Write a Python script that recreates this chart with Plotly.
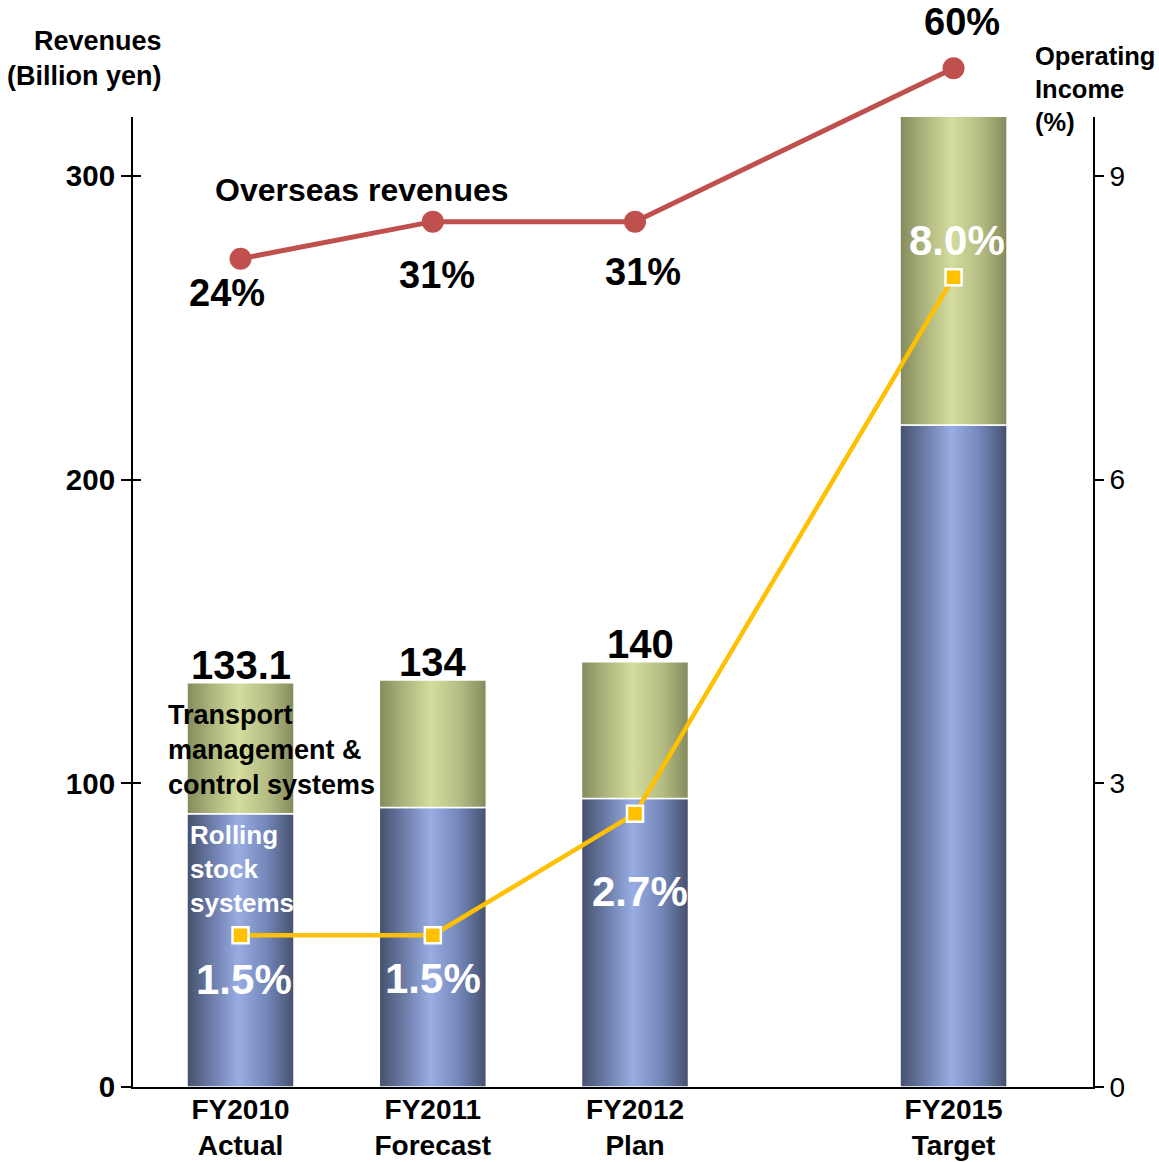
import plotly.graph_objects as go

# ---- data ----
years = ["FY2010<br>Actual", "FY2011<br>Forecast", "FY2012<br>Plan", "FY2015<br>Target"]
x_pos = [0, 0.975, 2, 3.615]          # category positions (gap before FY2015)
rolling_stock = [90, 92, 95, 218]          # Rolling stock systems (billion yen)
total_revenue = [133.1, 134, 140, 320]     # Total revenues (billion yen)
total_labels = ["133.1", "134", "140", "320"]
op_margin = [1.5, 1.5, 2.7, 8.0]           # Operating income ratio (%)
op_labels = ["1.5%", "1.5%", "2.7%", "8.0%"]
overseas_share = [24, 31, 31, 60]          # Overseas revenue share (%)
overseas_labels = ["24%", "31%", "31%", "60%"]

FONT = "Arial, 'Liberation Sans', Helvetica, sans-serif"
W, H = 1159, 1162
ML, MR, MT, MB = 133, 66, 20, 75
plot_h = H - MT - MB
main_top = (1087 - 117) / plot_h
UNIT = 197.25

BAR_W = 107 / UNIT
blue_scale = [[0, "#45506d"], [0.25, "#6f80ad"], [0.48, "#99ade4"], [0.75, "#7286b8"], [1, "#45506d"]]
green_scale = [[0, "#858a5c"], [0.25, "#b0b87f"], [0.48, "#d4dd9d"], [0.75, "#b5bd84"], [1, "#858a5c"]]

fig = go.Figure()

def add_segment(xc, base, top, scale):
    x0, x1 = xc - BAR_W / 2, xc + BAR_W / 2
    fig.add_trace(go.Scatter(
        x=[x0, x1, x1, x0, x0], y=[base, base, top, top, base],
        mode="lines", fill="toself",
        line=dict(color="white", width=1.5),
        fillgradient=dict(type="horizontal", colorscale=scale),
        hoverinfo="skip", showlegend=False, xaxis="x", yaxis="y"))

for xc, r, t in zip(x_pos, rolling_stock, total_revenue):
    add_segment(xc, 0, r, blue_scale)
    add_segment(xc, r, t, green_scale)

# operating income line (right axis)
fig.add_trace(go.Scatter(
    x=x_pos, y=op_margin, mode="lines+markers",
    line=dict(color="#FFC000", width=4.5),
    marker=dict(symbol="square", size=16, color="#FFC000", line=dict(color="white", width=2.5)),
    hoverinfo="skip", showlegend=False, xaxis="x", yaxis="y2", cliponaxis=False))

# overseas revenue share line (hidden axis)
fig.add_trace(go.Scatter(
    x=x_pos, y=overseas_share, mode="lines+markers",
    line=dict(color="#C0504D", width=5),
    marker=dict(symbol="circle", size=22, color="#C0504D"),
    hoverinfo="skip", showlegend=False, xaxis="x", yaxis="y3", cliponaxis=False))

# dummy trace for inner tick marks on the left axis
fig.add_trace(go.Scatter(x=[None], y=[None], xaxis="x", yaxis="y4",
                         showlegend=False, hoverinfo="skip"))

ann = []
# total labels
tot_dx = [0, 0, 5, 8]
for xc, t, lab, dx in zip(x_pos, total_revenue, total_labels, tot_dx):
    ann.append(dict(x=xc, y=t, xref="x", yref="y", text=lab, showarrow=False,
                    xanchor="center", yanchor="middle", yshift=18, xshift=dx,
                    font=dict(family=FONT, size=40, color="black", weight="bold")))
# operating margin labels
op_shift = [(3, -44), (0, -43), (5, -78), (3, 37)]
for xc, v, lab, (dx, dy) in zip(x_pos, op_margin, op_labels, op_shift):
    ann.append(dict(x=xc, y=v, xref="x", yref="y2", text=lab, showarrow=False,
                    xanchor="center", yanchor="middle", xshift=dx, yshift=dy,
                    font=dict(family=FONT, size=42, color="white", weight="bold")))
# overseas labels
ov_shift = [(-14, -34), (4, -53), (8, -50), (8, 46)]
for xc, v, lab, (dx, dy) in zip(x_pos, overseas_share, overseas_labels, ov_shift):
    ann.append(dict(x=xc, y=v, xref="x", yref="y3", text=lab, showarrow=False,
                    xanchor="center", yanchor="middle", xshift=dx, yshift=dy,
                    font=dict(family=FONT, size=38, color="black", weight="bold")))

ann.append(dict(x=(362 - ML) / 960, y=(1087 - 190) / plot_h, xref="paper", yref="paper",
                text="Overseas revenues", showarrow=False,
                xanchor="center", yanchor="middle",
                font=dict(family=FONT, size=32, color="black", weight="bold")))
# segment labels
ann.append(dict(x=x_pos[0], y=(rolling_stock[0] + total_revenue[0]) / 2, xref="x", yref="y",
                text="Transport<br>management &<br>control systems", showarrow=False,
                xanchor="left", yanchor="middle", align="left", xshift=-75, yshift=-2,
                font=dict(family=FONT, size=27, color="black", weight="bold")))
ann.append(dict(x=x_pos[0], y=rolling_stock[0], xref="x", yref="y",
                text="Rolling<br>stock<br>systems", showarrow=False,
                xanchor="left", yanchor="top", align="left", xshift=-53, yshift=-4,
                font=dict(family=FONT, size=26, color="white", weight="bold")))
# axis titles
ann.append(dict(x=(164 - ML) / 960, y=(1087 - 58) / plot_h, xref="paper", yref="paper",
                text="Revenues<br>(Billion yen)", showarrow=False,
                xanchor="right", yanchor="middle", align="right",
                font=dict(family=FONT, size=27, color="black", weight="bold")))
ann.append(dict(x=(1033 - ML) / 960, y=(1087 - 89) / plot_h, xref="paper", yref="paper",
                text="Operating<br>Income<br>(%)", showarrow=False,
                xanchor="left", yanchor="middle", align="left",
                font=dict(family=FONT, size=25.5, color="black", weight="bold")))

x_lo = (ML - 240.5) / UNIT
x_hi = (ML + 960 - 240.5) / UNIT
y_top = 970 / 3.0367

fig.update_layout(
    width=W, height=H,
    margin=dict(l=ML, r=MR, t=MT, b=MB, pad=0, autoexpand=False),
    paper_bgcolor="white", plot_bgcolor="rgba(0,0,0,0)",
    showlegend=False,
    annotations=ann,
    xaxis=dict(range=[x_lo, x_hi], domain=[0, 1], anchor="y", automargin=False,
               tickvals=x_pos, ticktext=years, ticks="", showgrid=False, zeroline=False,
               showline=True, linecolor="black", linewidth=2, ticklabelstandoff=-4,
               tickfont=dict(family=FONT, size=28, color="black", weight="bold")),
    yaxis=dict(range=[0, y_top], domain=[0, main_top], anchor="x", automargin=False,
               tickvals=[0, 100, 200, 300], ticks="outside", ticklen=10, tickwidth=2,
               tickcolor="black", showgrid=False, zeroline=False,
               showline=True, linecolor="black", linewidth=2,
               tickfont=dict(family=FONT, size=29.5, color="black", weight="bold")),
    yaxis2=dict(range=[0, y_top / 300 * 9], overlaying="y", side="right", anchor="x",
                automargin=False,
                tickvals=[0, 3, 6, 9], ticks="outside", ticklen=9, tickwidth=2,
                tickcolor="black", showgrid=False, zeroline=False,
                showline=True, linecolor="black", linewidth=2,
                tickfont=dict(family=FONT, size=28, color="black")),
    yaxis3=dict(range=[-132.5, 69.1], domain=[0, 1], anchor="x", visible=False,
                automargin=False, showgrid=False, zeroline=False),
    yaxis4=dict(range=[0, y_top], overlaying="y", side="left", anchor="x",
                automargin=False, tickvals=[100, 200, 300], ticks="inside", ticklen=8,
                tickwidth=2, tickcolor="black", showticklabels=False,
                showgrid=False, zeroline=False, showline=False),
)

fig.write_html("out.html")
